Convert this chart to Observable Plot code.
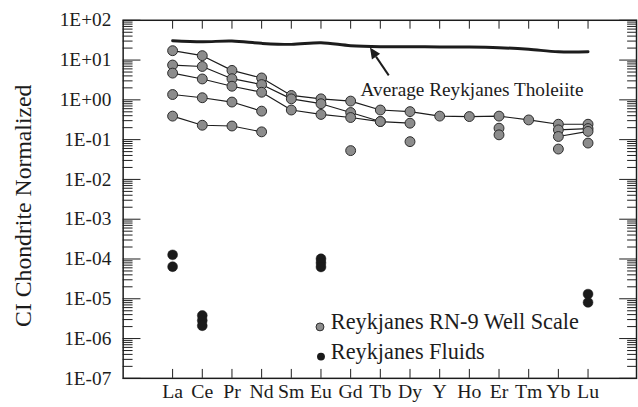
<!DOCTYPE html>
<html><head><meta charset="utf-8">
<script src="https://cdn.jsdelivr.net/npm/d3@7"></script>
<script src="https://cdn.jsdelivr.net/npm/@observablehq/plot@0.6"></script>
<style>
html,body{margin:0;padding:0;overflow:hidden;background:#fff;}
#chart svg{display:block;}
</style></head><body><div id="chart"></div>
<script>
// ---- data ----
const elements = ["La","Ce","Pr","Nd","Sm","Eu","Gd","Tb","Dy","Y","Ho","Er","Tm","Yb","Lu"];
const tholeiite = [30.6, 28.9, 30.0, 26.3, 24.8, 27.2, 23.0, 21.7, 21.7, 21.3, 21.3, 20.5, 18.6, 16.2, 16.2];
const wellA = [17.2, 12.9, 5.5, 3.55, 1.29, 1.06, 0.93, 0.555, 0.506, 0.39, 0.38, 0.39, 0.313, 0.244, 0.244];
const wellB = [7.5, 6.9, 3.4, 2.42, 1.06, 0.80, 0.48, 0.285, 0.259, null, null, null, null, null, null];
const wellC = [4.7, 3.35, 2.2, 1.55, 0.555, 0.43, 0.36, 0.285, null, null, null, null, null, null, null];
const wellD = [1.36, 1.13, 0.88, 0.52, null, null, null, null, null, null, null, null, null, null, null];
const wellE = [0.39, 0.23, 0.22, 0.157, null, null, null, null, null, null, null, null, null, null, null];
const wellF = [null, null, null, null, null, null, null, null, null, null, null, null, null, 0.176, 0.19];
const wellG = [null, null, null, null, null, null, null, null, null, null, null, null, null, 0.12, 0.161];
const singleEls = ["Gd", "Dy", "Er", "Er", "Yb", "Lu"];
const singleVals = [0.053, 0.089, 0.194, 0.132, 0.058, 0.082];
const fluidEls = ["La", "La", "Ce", "Ce", "Ce", "Eu", "Eu", "Eu", "Lu", "Lu"];
const fluidVals = [1.27e-4, 6.4e-5, 3.8e-6, 2.85e-6, 2.1e-6, 1.01e-4, 8.0e-5, 6.3e-5, 1.31e-5, 8.1e-6];
const yMajor = [1e-7, 1e-6, 1e-5, 1e-4, 1e-3, 1e-2, 1e-1, 1e0, 1e1, 1e2];
const yTickLabels = ["1E-07","1E-06","1E-05","1E-04","1E-03","1E-02","1E-01","1E+00","1E+01","1E+02"];
const yTitle = "CI Chondrite Normalized";
const legendLabels = ["Reykjanes RN-9 Well Scale", "Reykjanes Fluids"];
const annotationText = "Average Reykjanes Tholeiite";

// ---- derived tables ----
const rows = arr => elements.map((el, i) => ({el, v: arr[i]})).filter(d => d.v != null);
const wellSeries = [wellA, wellB, wellC, wellD, wellE, wellF, wellG].map(rows);
const wellLines = wellSeries.flatMap((s, k) => s.map(d => ({...d, s: k})));
const singles = singleEls.map((el, i) => ({el, v: singleVals[i]}));
const wellPoints = wellLines.concat(singles);
const fluids = fluidEls.map((el, i) => ({el, v: fluidVals[i]}));
const thRows = rows(tholeiite);
const yMinor = [];
for (const d of yMajor.slice(0, -1)) for (let m = 2; m <= 9; m++) yMinor.push(d * m);
const labelOf = new Map(yMajor.map((d, i) => [d, yTickLabels[i]]));

const font = "Liberation Serif";
const ink = "#1c1c1c";
const ns = "http://www.w3.org/2000/svg";

function arrowMark(index, scales) {
  const g = document.createElementNS(ns, "g");
  const x1 = scales.x("Tb") + 9, y1 = scales.y(4.0);
  const x2 = scales.x("Tb") - 10, y2 = scales.y(20);
  const ang = Math.atan2(y2 - y1, x2 - x1);
  const L = 11, W = 5;
  const bx = x2 - L * Math.cos(ang), by = y2 - L * Math.sin(ang);
  const line = document.createElementNS(ns, "line");
  line.setAttribute("x1", x1); line.setAttribute("y1", y1);
  line.setAttribute("x2", bx); line.setAttribute("y2", by);
  line.setAttribute("stroke", ink); line.setAttribute("stroke-width", 2);
  g.appendChild(line);
  const head = document.createElementNS(ns, "path");
  const px = -Math.sin(ang) * W, py = Math.cos(ang) * W;
  head.setAttribute("d", `M${x2},${y2}L${bx + px},${by + py}L${bx - px},${by - py}Z`);
  head.setAttribute("fill", ink);
  g.appendChild(head);
  return g;
}

function yTitleMark(index, scales, values, dims) {
  const t = document.createElementNS(ns, "text");
  const cy = (dims.marginTop + dims.height - dims.marginBottom) / 2 + 7;
  const cx = dims.marginLeft - 101;
  t.setAttribute("transform", `translate(${cx},${cy}) rotate(-90)`);
  t.setAttribute("text-anchor", "middle");
  t.setAttribute("dy", "0.35em");
  t.setAttribute("font-family", font);
  t.setAttribute("font-size", 24);
  t.setAttribute("fill", ink);
  t.textContent = yTitle;
  return t;
}

const plot = Plot.plot({
  width: 645, height: 407,
  marginLeft: 124, marginRight: 2, marginTop: 20, marginBottom: 25,
  style: `font-family: ${font}; background: #fff; color: ${ink};`,
  x: {type: "point", domain: elements, insetLeft: 33, insetRight: 33},
  y: {type: "log", domain: [1e-7, 1e2]},
  marks: [
    // axes: tick marks pointing inward
    Plot.axisY({anchor: "left", ticks: yMajor, tickSize: -18, tickFormat: () => "", label: null, stroke: ink}),
    Plot.axisY({anchor: "left", ticks: yMinor, tickSize: -10, tickFormat: () => "", label: null, stroke: ink}),
    Plot.axisY({anchor: "right", ticks: yMajor, tickSize: -18, tickFormat: () => "", label: null, stroke: ink}),
    Plot.axisY({anchor: "right", ticks: yMinor, tickSize: -10, tickFormat: () => "", label: null, stroke: ink}),
    Plot.axisY({anchor: "left", ticks: yMajor, tickSize: 0, tickPadding: 12, tickFormat: d => labelOf.get(d),
      label: null, fontSize: 19.5, fontFamily: font, fill: ink}),
    Plot.axisX({anchor: "top", tickSize: -8, tickFormat: () => "", label: null, stroke: ink}),
    Plot.axisX({anchor: "bottom", tickSize: -9, tickFormat: () => "", label: null, stroke: ink}),
    Plot.axisX({anchor: "bottom", tickSize: 0, tickPadding: 6, label: null, fontSize: 20, fontFamily: font, fill: ink}),
    Plot.frame({stroke: ink, strokeWidth: 1.5}),
    yTitleMark,
    // tholeiite
    Plot.line(thRows, {x: "el", y: "v", curve: "catmull-rom", stroke: ink, strokeWidth: 3}),
    // well scale
    Plot.line(wellLines, {x: "el", y: "v", z: "s", stroke: ink, strokeWidth: 1.2}),
    Plot.dot(wellPoints, {x: "el", y: "v", r: 5, fill: "#8c8c8c", stroke: "#2a2a2a", strokeWidth: 1}),
    // fluids
    Plot.dot(fluids, {x: "el", y: "v", r: 5, fill: "#1a1a1a", stroke: "#1a1a1a", strokeWidth: 0.5}),
    // annotation
    Plot.text([annotationText], {frameAnchor: "top-left", dx: 240, dy: 63, textAnchor: "start", fontSize: 19.5, fontFamily: font, fill: ink}),
    arrowMark,
    // legend
    Plot.dot([legendLabels[0]], {frameAnchor: "bottom-left", dx: 199, dy: -52, r: 4, fill: "#8c8c8c", stroke: "#2a2a2a", strokeWidth: 1}),
    Plot.dot([legendLabels[1]], {frameAnchor: "bottom-left", dx: 200, dy: -22, r: 4, fill: "#1a1a1a"}),
    Plot.text([legendLabels[0]], {frameAnchor: "bottom-left", dx: 210, dy: -50, textAnchor: "start", fontSize: 22.5, fontFamily: font, fill: ink}),
    Plot.text([legendLabels[1]], {frameAnchor: "bottom-left", dx: 210, dy: -20, textAnchor: "start", fontSize: 22.5, fontFamily: font, fill: ink})
  ]
});
document.getElementById("chart").appendChild(plot);
</script>
</body></html>
